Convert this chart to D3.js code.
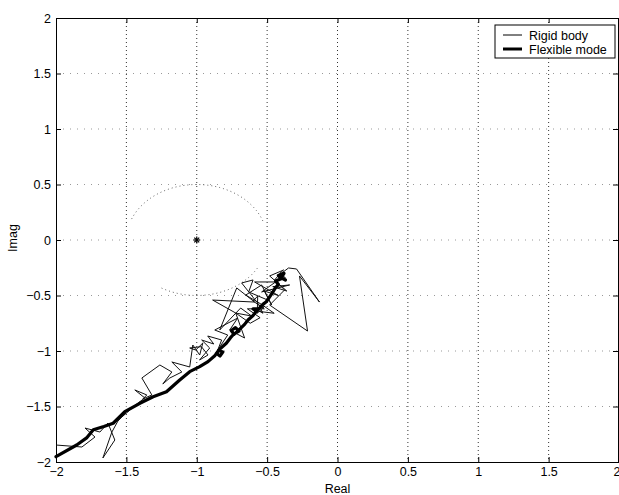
<!DOCTYPE html>
<html>
<head>
<meta charset="utf-8">
<script src="https://cdn.jsdelivr.net/npm/d3@7/dist/d3.min.js"></script>
<style>
  html, body { margin: 0; padding: 0; background: #fff; }
  svg { display: block; font-family: "Liberation Sans", Arial, sans-serif; }
</style>
</head>
<body>
<svg id="chart" width="619" height="495"></svg>
<script>
// Tick values shared by both axes
const xTicks = [-2, -1.5, -1, -0.5, 0, 0.5, 1, 1.5, 2];
const yTicks = [-2, -1.5, -1, -0.5, 0, 0.5, 1, 1.5, 2];

// Rigid body response (real, imag)
const rigidReal = [-2.000, -1.816, -1.723, -1.794, -1.688, -1.631, -1.582, -1.667, -1.603, -1.560,
  -1.504, -1.532, -1.475, -1.426, -1.369, -1.440, -1.355, -1.383, -1.319, -1.390,
  -1.262, -1.177, -1.241, -1.191, -1.106, -1.177, -1.050, -1.028, -0.979, -0.957,
  -1.007, -1.050, -0.967, -0.920, -0.980, -0.908, -0.965, -0.879, -0.922, -0.823,
  -0.851, -0.780, -0.872, -0.709, -0.766, -0.660, -0.723, -0.610, -0.688, -0.837,
  -0.716, -0.589, -0.887, -0.723, -0.620, -0.550, -0.640, -0.520, -0.600, -0.567,
  -0.570, -0.520, -0.580, -0.530, -0.560,
  -0.681, -0.600, -0.631, -0.496, -0.580, -0.450, -0.540, -0.652, -0.539, -0.468,
  -0.520, -0.420, -0.589, -0.440, -0.539, -0.340, -0.460, -0.360, -0.482, -0.383,
  -0.410, -0.370, -0.420, -0.380, -0.430,
  -0.348, -0.291, -0.128, -0.270, -0.213, -0.482, -0.376, -0.447, -0.404];
const rigidImag = [-1.847, -1.865, -1.775, -1.694, -1.730, -1.649, -1.802, -1.964, -1.730, -1.631,
  -1.559, -1.595, -1.532, -1.477, -1.423, -1.351, -1.396, -1.432, -1.396, -1.243,
  -1.126, -1.189, -1.297, -1.243, -1.189, -1.099, -1.144, -0.946, -1.036, -0.928,
  -0.991, -0.973, -0.961, -1.036, -1.081, -0.973, -0.901, -0.937, -0.865, -0.901,
  -0.991, -0.856, -0.811, -0.703, -0.811, -0.883, -0.658, -0.685, -0.613, -0.811,
  -0.432, -0.559, -0.541, -0.658, -0.750, -0.700, -0.620, -0.620, -0.550, -0.505,
  -0.660, -0.600, -0.620, -0.660, -0.580,
  -0.387, -0.360, -0.468, -0.541, -0.640, -0.660, -0.580, -0.496, -0.405, -0.586,
  -0.460, -0.500, -0.378, -0.378, -0.468, -0.405, -0.420, -0.460, -0.324, -0.270,
  -0.300, -0.340, -0.360, -0.290, -0.330,
  -0.252, -0.261, -0.559, -0.324, -0.820, -0.586, -0.450, -0.360, -0.297];

// Flexible mode response (real, imag)
const flexReal = [-2.000, -1.853, -1.780, -1.735, -1.660, -1.594, -1.511, -1.404, -1.310, -1.215,
  -1.121, -1.050, -0.979, -0.920, -0.870, -0.845, -0.815, -0.835, -0.860, -0.830,
  -0.790, -0.760, -0.735, -0.700, -0.725, -0.755, -0.735, -0.700, -0.660, -0.636,
  -0.600, -0.575, -0.600, -0.560, -0.530, -0.506, -0.470, -0.440, -0.420, -0.440,
  -0.400, -0.420, -0.380, -0.400, -0.370];
const flexImag = [-1.952, -1.847, -1.780, -1.710, -1.680, -1.651, -1.547, -1.471, -1.412, -1.367,
  -1.261, -1.186, -1.141, -1.096, -1.040, -0.995, -1.010, -1.045, -1.020, -0.975,
  -0.930, -0.880, -0.845, -0.820, -0.790, -0.815, -0.850, -0.810, -0.760, -0.721,
  -0.680, -0.640, -0.620, -0.620, -0.580, -0.556, -0.490, -0.430, -0.400, -0.370,
  -0.350, -0.320, -0.300, -0.340, -0.360];

// Critical point and the dotted circle around it
const critical = [-1, 0];
const circleRadius = 0.5;

const legendLabels = ["Rigid body", "Flexible mode"];

const svg = d3.select("#chart");
const padL = 56, padR = 619, padT = 18, padB = 462;

const x = d3.scaleLinear().domain([-2, 2]).range([padL, padR]);
const y = d3.scaleLinear().domain([-2, 2]).range([padB, padT]);

// Grid: vertical lines dotted dark, horizontal ones faint
const grid = svg.append("g");
grid.selectAll("line.vg").data(xTicks.slice(1, -1)).join("line")
  .attr("x1", d => x(d)).attr("x2", d => x(d))
  .attr("y1", padT).attr("y2", padB)
  .attr("stroke", "#333").attr("stroke-width", 1)
  .attr("stroke-dasharray", "1,3");
grid.selectAll("line.hg").data(yTicks.slice(1, -1)).join("line")
  .attr("x1", padL).attr("x2", padR)
  .attr("y1", d => y(d)).attr("y2", d => y(d))
  .attr("stroke", "#999").attr("stroke-width", 1)
  .attr("stroke-dasharray", "1,6");

// Dotted arcs of the radius 0.5 circle around the critical point
const arcSpans = [[20, 160], [240, 330]];
const arcLine = d3.line().x(d => x(d[0])).y(d => y(d[1]));
arcSpans.forEach(([a0, a1]) => {
  const pts = d3.range(a0, a1 + 1, 3).map(a => [
    critical[0] + circleRadius * Math.cos(a * Math.PI / 180),
    critical[1] + circleRadius * Math.sin(a * Math.PI / 180)
  ]);
  svg.append("path").datum(pts).attr("d", arcLine)
    .attr("fill", "none").attr("stroke", "#666").attr("stroke-width", 1)
    .attr("stroke-dasharray", "1,3");
});

// Axis box and ticks
const fmt = d => d3.format("")(d).replace("-", "\u2212");
const xb = d3.axisBottom(x).tickValues(xTicks).tickSize(-5).tickPadding(5).tickFormat(fmt);
const yl = d3.axisLeft(y).tickValues(yTicks).tickSize(-5).tickPadding(5).tickFormat(fmt);
const xt = d3.axisTop(x).tickValues(xTicks).tickSize(-5).tickFormat("");
const yr = d3.axisRight(y).tickValues(yTicks).tickSize(-5).tickFormat("");

function styleAxis(g) {
  g.select(".domain").attr("stroke", "#000").attr("stroke-width", 1);
  g.selectAll(".tick line").attr("stroke", "#000");
  g.selectAll(".tick text").attr("fill", "#000").style("font-size", "12.5px")
    .style("font-family", "Liberation Sans, Arial, sans-serif");
}
const axes = svg.append("g");
const gx = axes.append("g").attr("transform", `translate(0,${padB})`).call(xb).call(styleAxis);
gx.selectAll(".tick text").filter(d => d === 2).attr("text-anchor", "end").attr("dx", "1px");
axes.append("g").attr("transform", `translate(${padL},0)`).call(yl).call(styleAxis);
axes.append("g").attr("transform", `translate(0,${padT})`).call(xt).call(styleAxis);
axes.append("g").attr("transform", `translate(${padR - 1},0)`).call(yr).call(styleAxis);

// Response curves
const line = d3.line().x(d => x(d[0])).y(d => y(d[1]));
const rigid = rigidReal.map((v, i) => [v, rigidImag[i]]);
const flex = flexReal.map((v, i) => [v, flexImag[i]]);

const plot = svg.append("g");
plot.append("path").datum(rigid).attr("d", line)
  .attr("fill", "none").attr("stroke", "#111").attr("stroke-width", 1)
  .attr("stroke-linejoin", "miter");
plot.append("path").datum(flex).attr("d", line)
  .attr("fill", "none").attr("stroke", "#000").attr("stroke-width", 3.2)
  .attr("stroke-linejoin", "round").attr("stroke-linecap", "round");

// Critical point marker: asterisk
const cx = x(critical[0]), cy = y(critical[1]), s = 3.5;
const star = svg.append("g").attr("stroke", "#000").attr("stroke-width", 1.2);
[[-s, 0, s, 0], [0, -s, 0, s], [-s * 0.7, -s * 0.7, s * 0.7, s * 0.7], [-s * 0.7, s * 0.7, s * 0.7, -s * 0.7]]
  .forEach(([a, b, c, d]) => star.append("line")
    .attr("x1", cx + a).attr("y1", cy + b).attr("x2", cx + c).attr("y2", cy + d));

// Axis titles
svg.append("text").attr("x", x(0)).attr("y", 493)
  .attr("text-anchor", "middle").style("font-size", "12.5px").text("Real");
svg.append("text").attr("transform", `translate(17,${(padT + padB) / 2 - 2}) rotate(-90)`)
  .attr("text-anchor", "middle").style("font-size", "12.5px").text("Imag");

// Legend
const lg = svg.append("g").attr("transform", "translate(495,25)");
lg.append("rect").attr("width", 120).attr("height", 33)
  .attr("fill", "#fff").attr("stroke", "#000").attr("stroke-width", 1);
const widths = [1, 3];
legendLabels.forEach((lab, i) => {
  const yy = 10 + i * 14;
  lg.append("line").attr("x1", 8).attr("x2", 27).attr("y1", yy).attr("y2", yy)
    .attr("stroke", "#000").attr("stroke-width", widths[i]);
  lg.append("text").attr("x", 34).attr("y", yy + 4.5).style("font-size", "12.5px").text(lab);
});
</script>
</body>
</html>
